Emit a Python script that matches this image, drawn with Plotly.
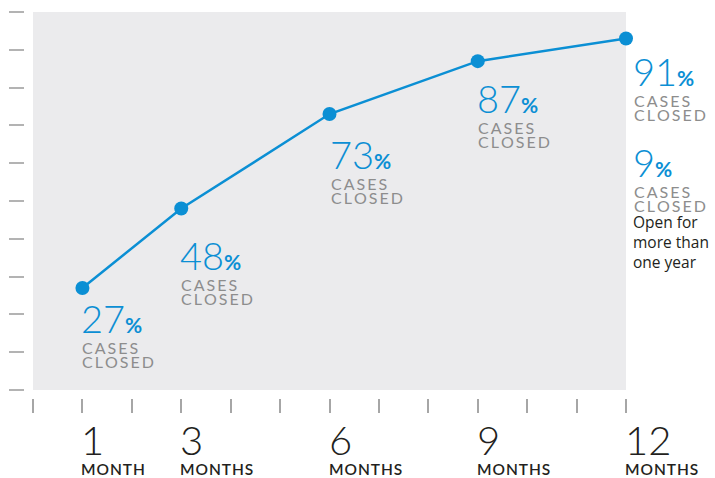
import plotly.graph_objects as go

# ---------------- data ----------------
months = [1, 3, 6, 9, 12]
closed_pct = [27, 48, 73, 87, 93]          # position of each point as drawn
pct_labels = ["27", "48", "73", "87", "91"]  # printed percentages
open_pct_label = "9"
open_note = ["Open for", "more than", "one year"]
x_ticks = list(range(0, 13))
y_ticks = list(range(0, 101, 10))
tick_months = ["1", "3", "6", "9", "12"]
tick_units = ["MONTH", "MONTHS", "MONTHS", "MONTHS", "MONTHS"]

# ---------------- styles ----------------
BLUE = "#0b8fd4"
GRAY_TXT = "#8d8d8d"
DARK = "#231f20"
BG = "#ebebed"
FONT = "Lato"
NUM_SIZE = 38
SUB_SIZE = 16
SUB_LINE = 14  # px between CASES / CLOSED baselines
PCT = "<b><span style='font-size:21px'>%</span></b>"
# label offsets relative to the point: (dx px, cap-top px below point)
label_offsets = [(1, 17), (1, 34), (2, 27), (1, 24), (9, 20)]

THIN = "\u2009"
HAIR = "\u200a"


def spaced(word, sep=THIN):
    return sep.join(word)


def top_shift(cap_px, size, pad=2):
    # yshift that puts cap top `cap_px` px below the anchor point
    return -(cap_px - pad - 0.27 * size)


fig = go.Figure()

fig.add_trace(go.Scatter(
    x=months, y=closed_pct, mode="lines+markers",
    line=dict(color=BLUE, width=2.5),
    marker=dict(color=BLUE, size=14),
    cliponaxis=False, hoverinfo="skip", showlegend=False,
))

fig.add_shape(type="rect", xref="x", yref="y",
              x0=min(x_ticks), x1=max(x_ticks), y0=min(y_ticks), y1=max(y_ticks),
              fillcolor=BG, line=dict(width=0), layer="below")

annotations = []
sub_text = "<br>".join(
    f"<span style='font-size:{SUB_SIZE}px'>{spaced(w)}</span>" for w in ["CASES", "CLOSED"]
)


def pct_block(x, y, dx, dy, num):
    annotations.append(dict(
        x=x, y=y, xref="x", yref="y", xanchor="left", yanchor="top",
        xshift=dx - 4, yshift=top_shift(dy, NUM_SIZE), showarrow=False,
        text=f"{num}{PCT}",
        font=dict(family=FONT, size=NUM_SIZE, color=BLUE, weight=300),
    ))
    annotations.append(dict(
        x=x, y=y, xref="x", yref="y", xanchor="left", yanchor="top",
        xshift=dx - 3, yshift=top_shift(dy + 37, SUB_SIZE),
        showarrow=False, text=sub_text, align="left",
        font=dict(family=FONT, size=SUB_LINE / 1.3, color=GRAY_TXT, weight=400),
    ))


for m, v, lab, (dx, dy) in zip(months, closed_pct, pct_labels, label_offsets):
    pct_block(m, v, dx, dy, lab)

# the "9% open" block, placed under the 12-month label
m12, v12 = months[-1], closed_pct[-1]
pct_block(m12, v12, 9, 111, open_pct_label)
annotations.append(dict(
    x=m12, y=v12, xref="x", yref="y", xanchor="left", yanchor="top",
    xshift=7 - 2, yshift=top_shift(178, 15.5) + 1, showarrow=False, align="left",
    text="<br>".join(open_note),
    font=dict(family="Open Sans", size=15.5, color=DARK, weight=400),
))

# custom x tick labels
for m, num, unit in zip(months, tick_months, tick_units):
    annotations.append(dict(
        x=m, y=0, xref="x", yref="paper", xanchor="left", yanchor="top",
        xshift=-3, yshift=top_shift(29, 40), showarrow=False, text=num,
        font=dict(family=FONT, size=40, color=DARK, weight=300),
    ))
    annotations.append(dict(
        x=m, y=0, xref="x", yref="paper", xanchor="left", yanchor="top",
        xshift=-1, yshift=top_shift(66, 15.5, pad=0), showarrow=False,
        borderpad=0, borderwidth=0,
        text=spaced(unit, HAIR),
        font=dict(family=FONT, size=15.5, color=DARK, weight=600),
    ))

fig.update_layout(
    width=715, height=478,
    margin=dict(l=25, r=89, t=12, b=80, pad=0),
    paper_bgcolor="white", plot_bgcolor="white",
    annotations=annotations,
    xaxis=dict(range=[-0.162, 12.0], tickvals=x_ticks, ticks="outside",
               ticklen=14, tickwidth=1.5, tickcolor="#a6a6a6",
               showticklabels=False, showgrid=False, zeroline=False,
               showline=False, fixedrange=True, automargin=False),
    yaxis=dict(range=[-2.12, 100], tickvals=y_ticks, ticks="outside",
               ticklen=15, tickwidth=1.5, tickcolor="#b3b3b3",
               showticklabels=False, showgrid=False, zeroline=False,
               showline=False, fixedrange=True, automargin=False),
)

fig.write_html("out.html")
